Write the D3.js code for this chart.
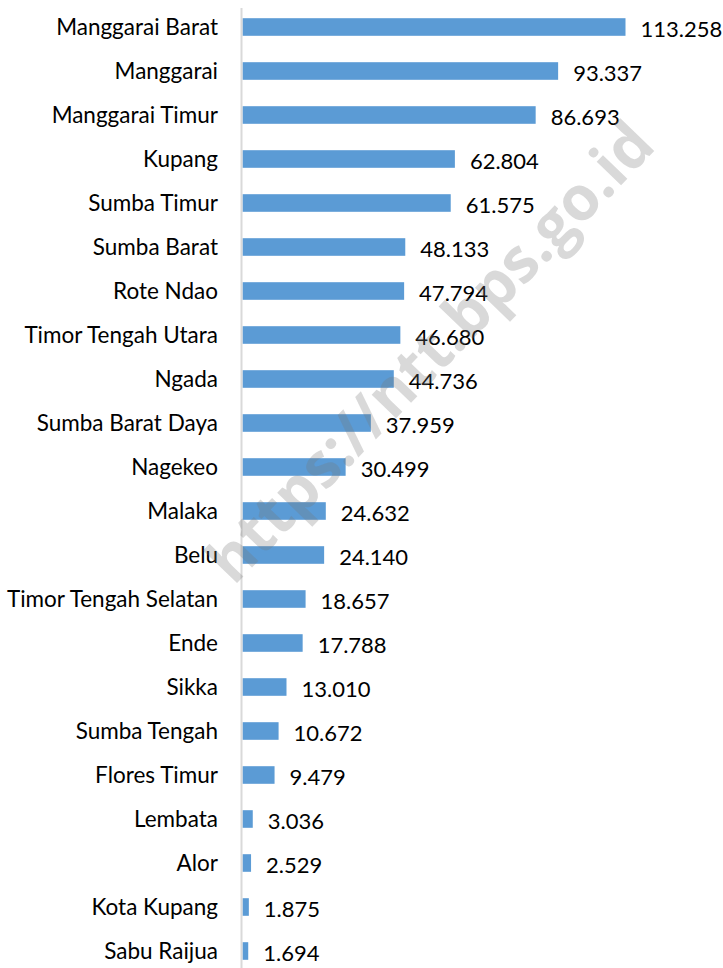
<!DOCTYPE html>
<html>
<head>
<meta charset="utf-8">
<script src="https://cdn.jsdelivr.net/npm/d3@7"></script>
<style>
  html, body { margin: 0; padding: 0; background: #fff; }
  svg { display: block; }
</style>
</head>
<body>
<script>
const categories = ["Manggarai Barat","Manggarai","Manggarai Timur","Kupang","Sumba Timur","Sumba Barat","Rote Ndao","Timor Tengah Utara","Ngada","Sumba Barat Daya","Nagekeo","Malaka","Belu","Timor Tengah Selatan","Ende","Sikka","Sumba Tengah","Flores Timur","Lembata","Alor","Kota Kupang","Sabu Raijua"];
const values = [113.258,93.337,86.693,62.804,61.575,48.133,47.794,46.680,44.736,37.959,30.499,24.632,24.140,18.657,17.788,13.010,10.672,9.479,3.036,2.529,1.875,1.694];
const valueLabels = ["113.258","93.337","86.693","62.804","61.575","48.133","47.794","46.680","44.736","37.959","30.499","24.632","24.140","18.657","17.788","13.010","10.672","9.479","3.036","2.529","1.875","1.694"];
const watermark = "https://ntt.bps.go.id";

const W = 723, H = 968;
const axisX = 241.5;
const svg = d3.select("body").append("svg").attr("width", W).attr("height", H);

const x = d3.scaleLinear().domain([0, 113.258]).range([axisX + 1, 625.5]);
const y = d3.scaleBand().domain(categories).range([5, 973]).paddingInner(0.6).paddingOuter(0.3);

const font = "Lato, 'Open Sans', sans-serif";

svg.append("g").selectAll("rect").data(values).join("rect")
  .attr("x", x(0))
  .attr("y", (d, i) => y(categories[i]))
  .attr("width", d => x(d) - x(0))
  .attr("height", y.bandwidth())
  .attr("fill", "#5b9bd5");

// axis line
svg.append("line").attr("x1", axisX).attr("x2", axisX).attr("y1", 8).attr("y2", H)
  .attr("stroke", "#d9d9d9").attr("stroke-width", 2);

// category labels
svg.append("g").selectAll("text").data(categories).join("text")
  .attr("x", 218)
  .attr("y", d => y(d) + y.bandwidth() / 2)
  .attr("dy", "0.35em")
  .attr("text-anchor", "end")
  .attr("font-family", font)
  .attr("font-size", 22.5)
  .attr("fill", "#000")
  .text(d => d);

// value labels
svg.append("g").selectAll("text").data(values).join("text")
  .attr("x", d => x(d) + 15)
  .attr("y", (d, i) => y(categories[i]) + y.bandwidth() / 2 + 2)
  .attr("dy", "0.35em")
  .attr("font-family", font)
  .attr("font-size", 22)
  .attr("fill", "#000")
  .text((d, i) => valueLabels[i]);

// watermark
svg.append("text")
  .attr("transform", "translate(430,352) rotate(-46)")
  .attr("text-anchor", "middle")
  .attr("dy", "0.35em")
  .attr("font-family", "'Open Sans', sans-serif")
  .attr("font-weight", "bold")
  .attr("font-size", 62)
  .attr("textLength", 610)
  .attr("lengthAdjust", "spacingAndGlyphs")
  .attr("fill", "rgba(120,120,120,0.28)")
  .text(watermark);
</script>
</body>
</html>
